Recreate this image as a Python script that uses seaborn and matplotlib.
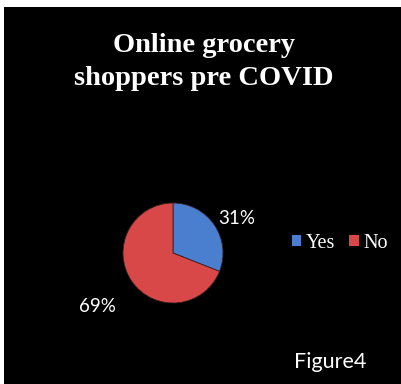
import matplotlib
matplotlib.use("Agg")
import matplotlib.pyplot as plt
import matplotlib.patches as mpatches
import seaborn as sns

# Survey answers
categories = ["Yes", "No"]
shares = [31, 69]
slice_colors = ["#4a7fd0", "#d94848"]
title_text = "Online grocery\nshoppers pre COVID"
caption_text = "Figure4"

sns.set_theme(style="white")
plt.rcParams["font.family"] = ["Lato", "DejaVu Sans"]

W, H = 401, 384
fig = plt.figure(figsize=(W / 100, H / 100), dpi=100)
fig.patch.set_facecolor("white")

# black panel framed by a thin white margin on the left and top
fig.add_artist(mpatches.Rectangle((4 / W, 0), 1 - 4 / W, 1 - 7 / H,
                                  transform=fig.transFigure,
                                  facecolor="black", edgecolor="none", zorder=0))

fig.text(204 / W, 1 - 62 / H, title_text, ha="center", va="center",
         color="white", fontsize=20.5, fontweight="bold",
         family=["Liberation Serif"], linespacing=1.38)

# pie axes centred on the panel's left half
cx, cy, r = 173, 253, 50
ax = fig.add_axes([(cx - r) / W, 1 - (cy + r) / H, 2 * r / W, 2 * r / H])
ax.set_facecolor("none")
wedges, _ = ax.pie(shares, colors=slice_colors, startangle=90, counterclock=False,
                   wedgeprops=dict(edgecolor="#3a2020", linewidth=0.6))
ax.set_xlim(-1, 1)
ax.set_ylim(-1, 1)
ax.set_aspect("equal")

# percentage labels outside the slices
fig.text(237 / W, 1 - 218 / H, f"{shares[0]}%", ha="center", va="center",
         color="white", fontsize=13.5)
fig.text(97 / W, 1 - 307 / H, f"{shares[1]}%", ha="center", va="center",
         color="white", fontsize=13.5)

handles = [mpatches.Patch(facecolor=c, edgecolor="none") for c in slice_colors]
leg = fig.legend(handles, categories, loc="center", bbox_to_anchor=(340 / W, 1 - 243 / H),
                 ncol=2, frameon=False, handlelength=0.45, handleheight=0.45,
                 handletextpad=0.25, columnspacing=0.7, borderpad=0, borderaxespad=0,
                 prop={"family": "Liberation Serif", "size": 14.5})
for t in leg.get_texts():
    t.set_color("white")

fig.text(330 / W, 1 - 362 / H, caption_text, ha="center", va="center",
         color="white", fontsize=15.5)

fig.savefig("out.png", dpi=100, facecolor="white")
